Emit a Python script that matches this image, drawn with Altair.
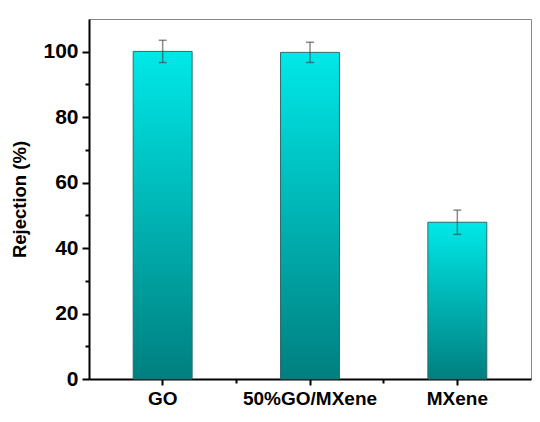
import altair as alt
import pandas as pd

categories = ["GO", "50%GO/MXene", "MXene"]
rejection = [100.1, 99.8, 47.9]
error = [3.4, 3.1, 3.7]
y_major = [0, 20, 40, 60, 80, 100]
y_minor = [10, 30, 50, 70, 90]

df = pd.DataFrame({
    "cat": categories,
    "val": rejection,
    "lo": [v - e for v, e in zip(rejection, error)],
    "hi": [v + e for v, e in zip(rejection, error)],
})

FONT = "Liberation Sans"
xscale = alt.Scale(domain=categories, paddingInner=0, paddingOuter=0)
yscale = alt.Scale(domain=[0, 110], nice=False)

grad = {
    "gradient": "linear",
    "x1": 0, "y1": 0, "x2": 0, "y2": 1,
    "stops": [
        {"offset": 0, "color": "#00E8E8"},
        {"offset": 1, "color": "#007F7F"},
    ],
}

bars = alt.Chart(df).mark_bar(
    fill=grad, stroke="#2E6B6B", strokeWidth=1, width={"band": 0.4}
).encode(
    x=alt.X("cat:N", scale=xscale, sort=categories,
            axis=alt.Axis(title=None, labelAngle=0, labelFontSize=19,
                          tickSize=6, labelPadding=4, orient="bottom")),
    y=alt.Y("val:Q", scale=yscale,
            axis=alt.Axis(title="Rejection (%)", values=y_major, tickSize=7,
                          labelFontSize=21, labelPadding=4, titleFontSize=18.5,
                          titlePadding=13, grid=False, orient="left")),
)

err = alt.Chart(df).mark_rule(color="#404040", opacity=0.6, strokeWidth=1.5).encode(
    x=alt.X("cat:N", scale=xscale, sort=categories,
            axis=alt.Axis(title=None, values=categories[1:], bandPosition=0,
                          labels=False, domain=False, tickSize=4, orient="bottom")),
    y=alt.Y("lo:Q", scale=yscale,
            axis=alt.Axis(title=None, values=y_minor, labels=False, domain=False,
                          tickSize=4, grid=False, orient="left")),
    y2="hi:Q",
)

cap_lo = alt.Chart(df).mark_tick(color="#404040", opacity=0.6, size=8, thickness=1.5).encode(
    x=alt.X("cat:N", scale=xscale, sort=categories, axis=None),
    y=alt.Y("lo:Q", scale=yscale, axis=None),
)
cap_hi = alt.Chart(df).mark_tick(color="#404040", opacity=0.6, size=8, thickness=1.5).encode(
    x=alt.X("cat:N", scale=xscale, sort=categories, axis=None),
    y=alt.Y("hi:Q", scale=yscale, axis=None),
)

chart = alt.layer(bars, err, cap_lo, cap_hi).resolve_axis(
    x="independent", y="independent"
).properties(
    width=442, height=360,
    autosize=alt.AutoSizeParams(type="none"),
    padding={"left": 81, "top": 11, "right": 1, "bottom": 32},
).configure_view(
    stroke="#888888", strokeWidth=1
).configure_axis(
    labelFont=FONT, titleFont=FONT, labelFontWeight="bold", titleFontWeight="bold",
    labelColor="black", titleColor="black", tickColor="black", tickWidth=2,
    domainColor="black", domainWidth=2,
)

chart.save("out.html", embed_options={"renderer": "svg", "actions": False})
